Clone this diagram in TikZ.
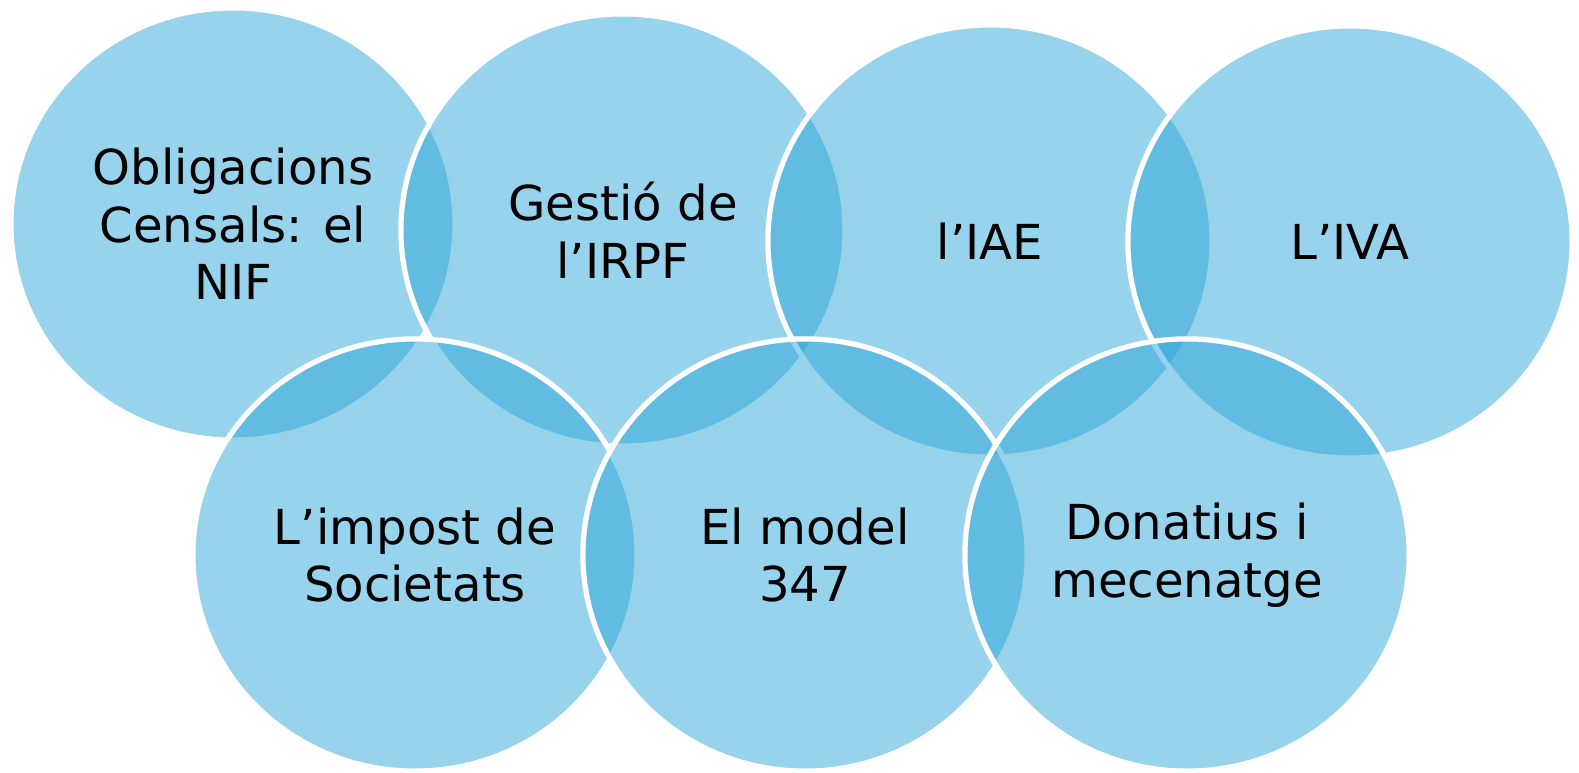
\documentclass[tikz,border=0pt]{standalone}
\usepackage{fontspec}
\setmainfont{DejaVu Sans}
\usetikzlibrary{shapes.geometric}
\definecolor{ringblue}{RGB}{43,165,216}

\tikzset{
  ring/.style={ellipse, minimum width=4.44cm, minimum height=4.32cm, inner sep=0pt,
    fill=ringblue, fill opacity=0.49, text opacity=1, draw=white, line width=1.5pt,
    align=center, font=\fontsize{13.7pt}{16.4pt}\selectfont}
}

\begin{document}
\begin{tikzpicture}[x=0.01cm,y=-0.01cm]
\useasboundingbox (0,0) rectangle (1579,772);

% top row
\node[ring] (nif)  at (233,224)  {Obligacions\\Censals: el\\NIF};
\node[ring] (irpf) at (623,230)  {Gestió de\\l’IRPF};
\node[ring] (iae)  at (990,241)  {l’IAE};
\node[ring] (iva)  at (1350,242) {L’IVA};

% bottom row
\node[ring] (soc)  at (415,555)  {L’impost de\\Societats};
\node[ring] (m347) at (805,555)  {El model\\347};
\node[ring] (don)  at (1187,555) {Donatius i\\mecenatge};

\end{tikzpicture}
\end{document}
